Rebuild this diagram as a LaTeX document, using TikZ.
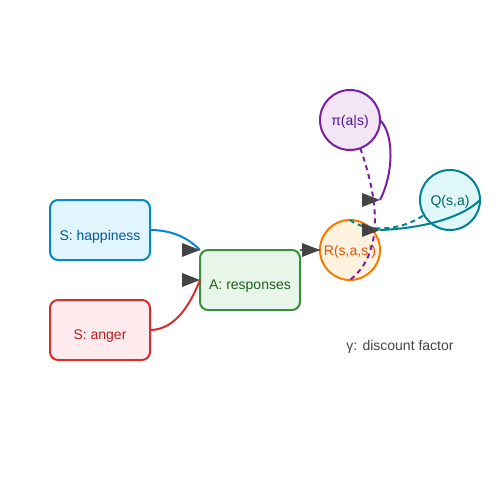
\documentclass[tikz,border=0pt]{standalone}
\usepackage{fontspec}
\setmainfont{Liberation Sans}
\definecolor{hapB}{HTML}{0288D1}\definecolor{hapF}{HTML}{E1F5FE}\definecolor{hapT}{HTML}{01579B}
\definecolor{angB}{HTML}{D32F2F}\definecolor{angF}{HTML}{FFEBEE}\definecolor{angT}{HTML}{B71C1C}
\definecolor{aB}{HTML}{388E3C}\definecolor{aF}{HTML}{E8F5E9}\definecolor{aT}{HTML}{1B5E20}
\definecolor{rB}{HTML}{F57C00}\definecolor{rF}{HTML}{FFF3E0}\definecolor{rT}{HTML}{E65100}
\definecolor{piB}{HTML}{7B1FA2}\definecolor{piF}{HTML}{F3E5F5}\definecolor{piT}{HTML}{4A148C}
\definecolor{qB}{HTML}{00838F}\definecolor{qF}{HTML}{E0F7FA}\definecolor{qT}{HTML}{006064}
\definecolor{arrowgray}{HTML}{444444}\definecolor{gamT}{HTML}{444444}
\begin{document}
\begin{tikzpicture}[x=1pt,y=-1pt]
\tikzset{
 every node/.style={font=\fontsize{14}{16}\selectfont},
 boxst/.style={draw, line width=2pt, rounded corners=8pt, minimum width=100pt, minimum height=60pt, inner sep=0pt, outer sep=0pt},
 circst/.style={draw, circle, line width=2pt, minimum size=60pt, inner sep=0pt, outer sep=0pt},
 tipst/.style={fill=arrowgray},
 edgest/.style={line width=2pt},
 dashst/.style={line width=2pt, dash pattern=on 5pt off 4pt}
}
\fill[white] (0,0) rectangle (500,500);
\useasboundingbox (0,0) rectangle (500,500);
% nodes
\node[boxst, draw=hapB, fill=hapF] (hap) at (100,230) {};
\node[text=hapT] (hapL) at (100,236.5) {S: happiness};
\node[boxst, draw=angB, fill=angF] (ang) at (100,330) {};
\node[text=angT] (angL) at (100,336.5) {S: anger};
\node[boxst, draw=aB, fill=aF] (A) at (250,280) {};
\node[text=aT] (AL) at (250,286.5) {A: responses};
\node[circst, draw=rB, fill=rF] (R) at (350,250) {};
\node[text=rT] (RL) at (350,251.5) {R(s,a,s')};
\node[circst, draw=piB, fill=piF] (pi) at (350,120) {};
\node[text=piT] (piL) at (350,121.5) {π(a|s)};
\node[circst, draw=qB, fill=qF] (Q) at (450,200) {};
\node[text=qT] (QL) at (450,201.5) {Q(s,a)};
\node[text=gamT] (gamma) at (400,346.5) {γ: discount factor};
\coordinate (pR) at (380,200);
\coordinate (qR) at (380,230);
% edges
\draw[edgest, hapB] (hap.east) .. controls (175,230) and (190,240) .. (A.north west);
\draw[edgest, angB] (ang.east) .. controls (177,330) and (192,300) .. (A.west);
\draw[edgest, aB] (A.north east) -- (R.west);
\draw[edgest, piB] (pi.east) .. controls (395,135) and (393,175) .. (pR);
\draw[dashst, piB] (pi.-70) .. controls (375,190) and (388,250) .. (R.south);
\draw[edgest, qB] (qR) .. controls (430,228) and (465,215) .. (Q.east);
\draw[dashst, qB] (R.north) .. controls (365,232) and (400,232) .. (Q.210);
% arrowheads
\fill[tipst] (A.north west) -- ++(-18,-7) -- ++(0,14) -- cycle;
\fill[tipst] (A.west) -- ++(-18,-7) -- ++(0,14) -- cycle;
\fill[tipst] (R.west) -- ++(-18,-7) -- ++(0,14) -- cycle;
\fill[tipst] (pR) -- ++(-18,-7) -- ++(0,14) -- cycle;
\fill[tipst] (qR) -- ++(-18,-7) -- ++(0,14) -- cycle;
\end{tikzpicture}
\end{document}
